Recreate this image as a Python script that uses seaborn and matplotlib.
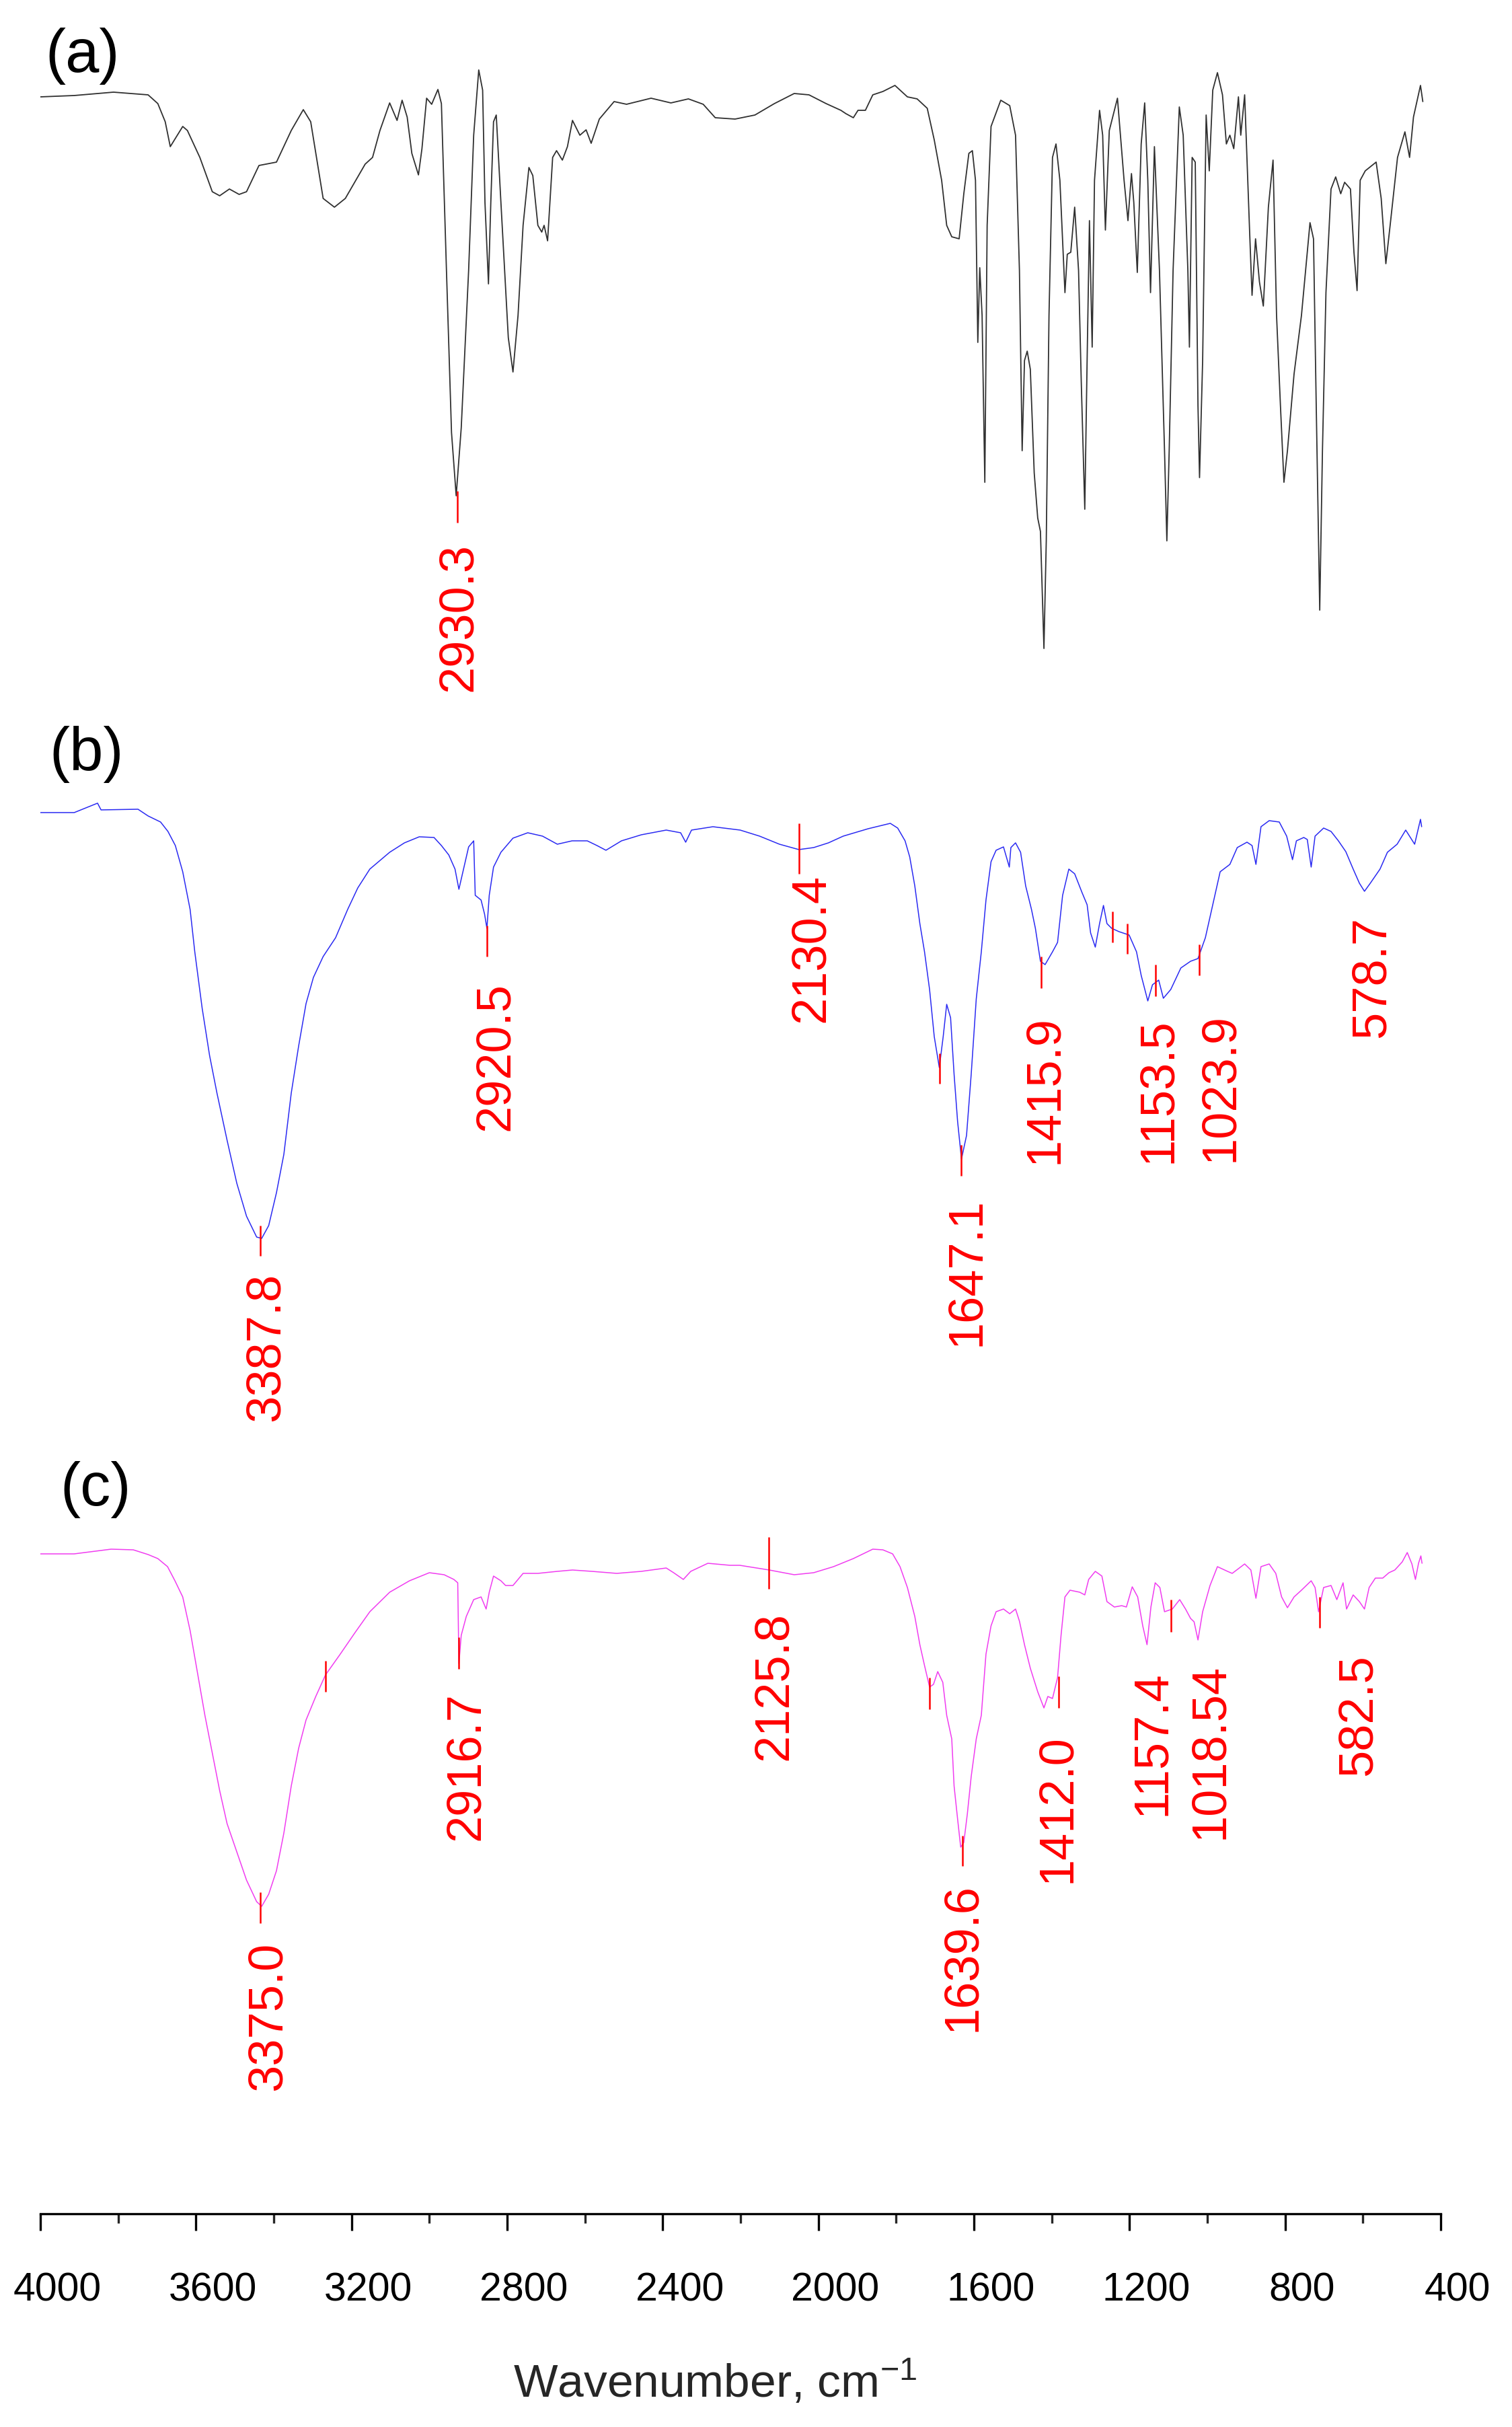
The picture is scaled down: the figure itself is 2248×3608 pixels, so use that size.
import numpy as np
import pandas as pd
import matplotlib
matplotlib.use("Agg")
import matplotlib.pyplot as plt
import matplotlib.transforms as mtransforms
import seaborn as sns

# ---- spectrum (a) ----
wn_a = [4000, 3913, 3812, 3723, 3698, 3679, 3666, 3634, 3622, 3590, 3558, 3539, 3514, 3489, 3470,
        3438, 3393, 3355, 3324, 3305, 3273, 3244, 3216, 3165, 3146, 3127, 3102, 3083, 3070, 3057,
        3045, 3028, 3019, 3007, 2994, 2978, 2969, 2956, 2943, 2931, 2918, 2899, 2886, 2873, 2863,
        2857, 2848, 2842, 2835, 2828, 2816, 2797, 2785, 2772, 2759, 2744, 2734, 2721, 2711, 2705,
        2696, 2683, 2673, 2658, 2645, 2632, 2613, 2597, 2584, 2563, 2525, 2493, 2430, 2379, 2334,
        2296, 2265, 2214, 2163, 2113, 2062, 2024, 1980, 1942, 1929, 1910, 1898, 1879, 1860, 1834,
        1803, 1771, 1746, 1720, 1702, 1683, 1670, 1657, 1638, 1626, 1613, 1604, 1596, 1590, 1585,
        1579, 1572, 1566, 1556, 1531, 1508, 1493, 1483, 1476, 1470, 1463, 1455, 1445, 1436, 1429,
        1420, 1414, 1407, 1398, 1389, 1379, 1366, 1360, 1351, 1341, 1331, 1324, 1315, 1309, 1303,
        1296, 1290, 1277, 1269, 1262, 1252, 1231, 1214, 1204, 1195, 1189, 1180, 1170, 1161, 1153,
        1146, 1136, 1123, 1110, 1104, 1098, 1088, 1072, 1062, 1050, 1046, 1039, 1031, 1024, 1020,
        1012, 1003, 995, 986, 974, 961, 951, 942, 932, 920, 914, 904, 891, 885, 876,
        866, 856, 843, 831, 822, 812, 803, 794, 777, 758, 736, 727, 720, 711, 704,
        695, 682, 670, 657, 647, 632, 623, 615, 607, 594, 566, 553, 541, 530, 511,
        492, 480, 470, 452, 446]
t_a = [90.6, 90.8, 91.3, 90.9, 89.6, 86.9, 83.2, 86.2, 85.6, 81.6, 76.5, 75.9, 76.9, 76.1, 76.5,
       80.4, 80.9, 85.6, 88.7, 86.9, 75.5, 74.2, 75.5, 80.6, 81.6, 85.6, 89.7, 87.1, 90.1, 87.6,
       82.2, 79.0, 82.9, 90.4, 89.5, 91.7, 89.6, 64.8, 40.7, 31.3, 41.4, 64.8, 84.9, 94.6, 91.6,
       74.9, 62.8, 74.9, 86.9, 87.9, 74.9, 54.8, 49.7, 58.1, 71.5, 80.1, 78.9, 71.5, 70.5, 71.5,
       69.2, 81.6, 82.6, 81.2, 83.2, 87.1, 84.9, 85.7, 83.7, 87.3, 89.9, 89.5, 90.4, 89.7, 90.3,
       89.5, 87.5, 87.3, 87.9, 89.6, 91.1, 90.9, 89.6, 88.6, 88.1, 87.5, 88.6, 88.6, 90.9, 91.4,
       92.3, 90.6, 90.3, 88.9, 84.2, 78.2, 71.5, 69.8, 69.5, 76.2, 82.2, 82.6, 78.2, 54.1, 65.2,
       58.1, 33.3, 71.5, 86.2, 90.1, 89.3, 84.9, 64.8, 38.0, 51.4, 52.8, 50.1, 34.7, 28.0, 26.0,
       8.6, 24.6, 58.1, 81.6, 83.6, 78.2, 61.5, 67.2, 67.5, 74.2, 64.8, 48.1, 29.3, 51.4, 72.2,
       53.4, 78.2, 88.6, 84.9, 70.8, 85.6, 90.4, 78.2, 72.2, 79.2, 74.9, 64.5, 83.6, 89.7, 78.2,
       61.5, 83.2, 64.8, 38.0, 24.6, 38.0, 64.8, 89.1, 84.9, 64.8, 53.4, 81.6, 80.9, 44.7, 34.0,
       51.4, 87.9, 79.6, 91.6, 94.2, 90.9, 83.6, 84.9, 82.9, 90.6, 84.9, 90.9, 70.2, 61.1, 69.5,
       63.1, 59.5, 74.2, 81.2, 58.1, 44.7, 33.3, 38.0, 49.4, 58.1, 71.9, 69.5, 44.7, 14.3, 38.0,
       61.5, 76.9, 78.7, 76.2, 77.9, 76.9, 67.5, 61.8, 78.2, 79.6, 80.9, 75.5, 65.8, 71.5, 81.6,
       85.4, 81.6, 87.6, 92.3, 89.9]

# ---- spectrum (b) ----
wn_b = [4000, 3913, 3853, 3844, 3749, 3723, 3691, 3672, 3653, 3634, 3615, 3603, 3584, 3565, 3546,
        3520, 3495, 3470, 3444, 3431, 3413, 3393, 3374, 3355, 3336, 3317, 3298, 3273, 3241, 3210,
        3184, 3153, 3102, 3064, 3026, 2988, 2969, 2950, 2934, 2924, 2911, 2899, 2886, 2882, 2867,
        2858, 2852, 2846, 2835, 2816, 2785, 2747, 2709, 2671, 2633, 2594, 2569, 2546, 2506, 2455,
        2391, 2354, 2341, 2326, 2271, 2201, 2151, 2100, 2050, 2012, 1974, 1936, 1872, 1815, 1796,
        1777, 1765, 1752, 1739, 1727, 1714, 1702, 1689, 1679, 1670, 1660, 1651, 1642, 1632, 1619,
        1607, 1594, 1581, 1569, 1556, 1543, 1524, 1509, 1505, 1493, 1480, 1467, 1452, 1442, 1429,
        1417, 1398, 1385, 1372, 1356, 1341, 1322, 1309, 1300, 1288, 1277, 1267, 1258, 1246, 1227,
        1201, 1182, 1170, 1153, 1141, 1125, 1113, 1094, 1068, 1043, 1024, 1005, 986, 967, 942,
        923, 898, 885, 875, 862, 841, 815, 796, 781, 771, 752, 743, 733, 723, 701,
        682, 663, 644, 625, 609, 596, 581, 556, 537, 512, 490, 467, 452, 449]
t_b = [94.2, 94.2, 95.6, 94.6, 94.7, 93.7, 92.8, 91.4, 89.3, 85.4, 79.8, 73.5, 65.1, 58.1, 52.5,
       45.5, 39.1, 34.2, 31.1, 30.9, 32.8, 37.7, 43.4, 52.5, 59.5, 65.8, 69.7, 72.8, 75.6, 79.8,
       83.0, 85.8, 88.3, 89.7, 90.6, 90.5, 89.3, 87.9, 85.8, 82.8, 86.1, 89.1, 90.0, 81.9, 81.2,
       79.1, 77.0, 81.9, 86.1, 88.3, 90.4, 91.2, 90.7, 89.5, 90.0, 90.0, 89.3, 88.6, 90.0, 90.9,
       91.6, 91.2, 89.8, 91.6, 92.1, 91.6, 90.7, 89.5, 88.7, 89.0, 89.7, 90.7, 91.8, 92.6, 91.9,
       90.0, 87.6, 83.3, 77.7, 73.5, 67.9, 60.9, 56.3, 60.9, 65.7, 63.7, 55.3, 48.3, 42.7, 46.2,
       55.3, 66.5, 73.5, 81.2, 86.9, 88.6, 89.1, 86.1, 89.0, 89.7, 88.3, 83.3, 79.8, 77.0, 72.1,
       71.6, 73.5, 74.9, 81.9, 85.8, 85.1, 82.3, 80.5, 76.3, 74.2, 77.7, 80.4, 77.7, 77.0, 76.5,
       76.0, 73.5, 70.0, 66.2, 68.6, 69.3, 66.6, 67.9, 71.1, 72.1, 72.5, 75.6, 80.5, 85.4, 86.5,
       89.0, 89.8, 89.3, 86.5, 92.1, 93.0, 92.8, 90.7, 87.2, 90.0, 90.5, 90.2, 86.1, 90.7, 91.9,
       91.4, 90.0, 88.4, 85.8, 83.7, 82.5, 83.7, 85.8, 88.3, 89.5, 91.6, 89.5, 93.2, 92.1]

# ---- spectrum (c) ----
wn_c = [4000, 3913, 3818, 3761, 3723, 3698, 3673, 3654, 3634, 3615, 3596, 3577, 3558, 3539, 3520,
        3495, 3470, 3444, 3431, 3413, 3393, 3374, 3355, 3336, 3317, 3292, 3267, 3229, 3191, 3153,
        3102, 3051, 3000, 2962, 2937, 2927, 2924, 2918, 2905, 2886, 2867, 2854, 2846, 2835, 2816,
        2804, 2785, 2759, 2721, 2671, 2632, 2582, 2518, 2455, 2391, 2372, 2347, 2328, 2284, 2227,
        2202, 2126, 2062, 2012, 1961, 1910, 1860, 1834, 1809, 1790, 1771, 1752, 1739, 1727, 1714,
        1704, 1693, 1680, 1670, 1657, 1651, 1642, 1634, 1626, 1617, 1607, 1594, 1581, 1569, 1556,
        1543, 1524, 1508, 1493, 1483, 1470, 1455, 1436, 1420, 1410, 1398, 1385, 1376, 1366, 1353,
        1328, 1315, 1305, 1288, 1271, 1258, 1239, 1220, 1208, 1193, 1179, 1166, 1155, 1145, 1134,
        1122, 1110, 1090, 1071, 1056, 1043, 1034, 1024, 1012, 993, 974, 948, 936, 904, 888,
        875, 862, 841, 824, 809, 794, 777, 758, 733, 723, 714, 701, 682, 667, 651,
        642, 625, 609, 596, 584, 568, 549, 533, 518, 499, 486, 474, 465, 457, 451, 448]
t_c = [89.0, 89.0, 89.7, 89.6, 88.9, 88.3, 87.1, 85.0, 82.6, 77.6, 71.3, 65.0, 59.4, 53.8, 48.9,
       44.7, 40.5, 37.3, 36.6, 38.4, 41.9, 47.5, 54.5, 60.1, 64.3, 67.8, 71.0, 74.1, 77.3, 80.4,
       83.3, 85.0, 86.2, 85.9, 85.2, 84.7, 72.7, 76.9, 79.7, 82.2, 82.6, 80.8, 83.3, 85.7, 85.0,
       84.3, 84.3, 86.1, 86.1, 86.4, 86.6, 86.4, 86.1, 86.4, 86.9, 86.2, 85.2, 86.4, 87.6, 87.3,
       87.3, 86.6, 85.9, 86.2, 87.1, 88.3, 89.7, 89.6, 89.0, 87.1, 84.0, 79.7, 75.5, 72.4, 69.2,
       69.6, 71.5, 69.9, 65.0, 61.5, 54.5, 49.6, 45.4, 46.1, 50.3, 55.9, 61.5, 65.0, 74.1, 78.3,
       80.4, 80.8, 80.1, 80.8, 79.0, 75.5, 72.0, 68.5, 66.1, 67.8, 67.5, 70.6, 76.9, 82.6, 83.6,
       83.3, 82.9, 85.2, 86.4, 85.7, 81.9, 81.1, 81.3, 81.1, 84.1, 82.6, 78.3, 75.5, 81.1, 84.7,
       84.0, 80.4, 80.8, 82.2, 80.8, 79.4, 78.9, 76.2, 80.4, 84.3, 87.1, 86.4, 86.1, 87.5, 86.6,
       82.4, 87.1, 87.5, 86.1, 82.6, 81.0, 82.6, 83.6, 85.0, 84.0, 80.4, 84.0, 84.3, 82.2, 84.7,
       80.8, 82.9, 81.9, 80.8, 84.0, 85.4, 85.4, 86.2, 86.6, 87.8, 89.2, 87.5, 85.2, 87.6, 88.7, 87.6]

# ---- peak markers: red tick position, tick top/bottom ----
tick_wn_a = [2928]
tick_hi_a = [32.0]
tick_lo_a = [27.3]
tick_wn_b = [3434, 2852, 2050, 1689, 1632, 1427, 1243, 1205, 1134, 1020]
tick_hi_b = [32.8, 77.4, 92.6, 58.4, 44.8, 72.8, 79.5, 77.7, 71.6, 74.6]
tick_lo_b = [28.3, 72.8, 85.1, 53.9, 40.2, 68.1, 74.9, 73.2, 66.9, 70.0]
tick_wn_c = [3434, 3267, 2924, 2128, 1714, 1629, 1382, 1094, 712]
tick_hi_c = [38.7, 73.1, 76.6, 91.5, 70.6, 47.1, 70.8, 82.2, 82.6]
tick_lo_c = [34.1, 68.5, 71.9, 83.8, 65.9, 42.6, 66.1, 77.4, 78.0]

# ---- peak labels ----
lab_text_a = ["2930.3"]
lab_wn_a = [2924]
lab_top_a = [24.3]
lab_text_b = ["3387.8", "2920.5", "2130.4", "1647.1", "1415.9", "1153.5", "1023.9", "578.7"]
lab_wn_b = [3419, 2829, 2018, 1619, 1417, 1125, 967, 576]
lab_top_b = [25.8, 69.0, 85.1, 37.0, 64.1, 63.7, 64.4, 78.8]
lab_text_c = ["3375.0", "2916.7", "2125.8", "1639.6", "1412.0", "1157.4", "1018.54", "582.5"]
lab_wn_c = [3413, 2905, 2113, 1629, 1385, 1141, 993, 610]
lab_top_c = [31.3, 68.5, 80.4, 40.1, 62.2, 71.7, 72.7, 74.1]

panel_names = ["(a)", "(b)", "(c)"]
line_colors = ["#303030", "#2a2af2", "#f03cf0"]
x_ticks = [4000, 3600, 3200, 2800, 2400, 2000, 1600, 1200, 800, 400]

sns.set_style("white")
plt.rcParams["font.family"] = ["Liberation Sans", "DejaVu Sans"]
plt.rcParams["mathtext.default"] = "regular"

W, H = 2248, 3608
fig = plt.figure(figsize=(W / 100, H / 100), dpi=100)

# axes rectangles in figure pixels (top, bottom), same x span
x0, x1 = 60, 2142
rows = [(0, 1050, (0, 105)), (1050, 2150, (0, 110)), (2150, 3291, (-9.1, 105))]
label_pos = [(3988, 94.3), (3977, 100.5), (3950, 96.2)]

panels = [
    (wn_a, t_a, tick_wn_a, tick_hi_a, tick_lo_a, lab_text_a, lab_wn_a, lab_top_a),
    (wn_b, t_b, tick_wn_b, tick_hi_b, tick_lo_b, lab_text_b, lab_wn_b, lab_top_b),
    (wn_c, t_c, tick_wn_c, tick_hi_c, tick_lo_c, lab_text_c, lab_wn_c, lab_top_c),
]

axes = []
for i, (wn, tt, twn, thi, tlo, ltxt, lwn, ltop) in enumerate(panels):
    top, bot, ylim = rows[i]
    ax = fig.add_axes([x0 / W, (H - bot) / H, (x1 - x0) / W, (bot - top) / H])
    df = pd.DataFrame({"wavenumber": wn, "T": tt})
    sns.lineplot(data=df, x="wavenumber", y="T", ax=ax, color=line_colors[i],
                 lw=1.3 if i == 0 else 1.1, estimator=None, sort=False, errorbar=None)
    ax.vlines(twn, tlo, thi, color="red", lw=1.8)
    for txt, xw, yt in zip(ltxt, lwn, ltop):
        ax.text(xw, yt, txt, rotation=90, ha="center", va="top", color="red", fontsize=52)
    ax.text(label_pos[i][0], label_pos[i][1], panel_names[i], ha="left", va="baseline",
            fontsize=65, color="black")
    ax.set_xlim(4000, 400)
    ax.set_ylim(*ylim)
    ax.set_ylabel("")
    ax.set_yticks([])
    for s in ["left", "right", "top", "bottom"]:
        ax.spines[s].set_visible(False)
    ax.set_facecolor("none")
    axes.append(ax)

# shared wavenumber axis on the bottom panel
ax = axes[-1]
ax.spines["bottom"].set_visible(True)
ax.spines["bottom"].set_linewidth(2.4)
ax.spines["bottom"].set_color("black")
ax.set_xticks(x_ticks)
ax.set_xticks(np.arange(3800, 400, -400), minor=True)
ax.tick_params(axis="x", which="major", direction="out", length=18, width=2.4,
               labelsize=42.5, pad=44, bottom=True, colors="black")
ax.tick_params(axis="x", which="minor", direction="out", length=10, width=2.4, bottom=True)
ax.set_xlabel("Wavenumber, cm$^{-1}$", fontsize=50)
ax.xaxis.set_label_coords(0.482, -0.189)
for a in axes[:-1]:
    a.set_xticks([])
    a.set_xlabel("")

# tick labels sit a little to the right of their ticks in the original
shift = mtransforms.ScaledTranslation(25 / 100, 0, fig.dpi_scale_trans)
for lab in ax.get_xticklabels():
    lab.set_transform(lab.get_transform() + shift)

fig.savefig("out.png", dpi=100, facecolor="white")
